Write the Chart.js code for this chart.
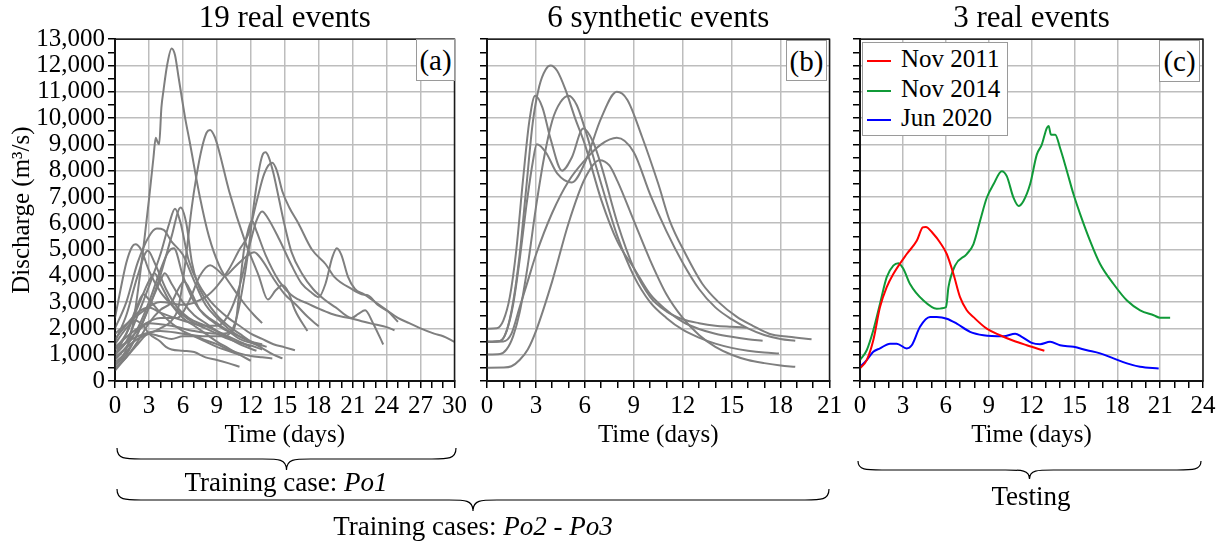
<!DOCTYPE html>
<html lang="en">
<head>
  <meta charset="UTF-8" />
  <title>Discharge events</title>
  <script src="https://cdn.jsdelivr.net/npm/chart.js"></script>
  <style>
    body {
      margin: 0;
      background: #fff;
      font-family: 'Liberation Serif', 'Times New Roman', serif;
    }
    #wrap {
      position: relative;
      width: 1227px;
      height: 546px;
      overflow: hidden;
    }
    canvas { position: absolute; top: 0; }
    .tag {
      position: absolute;
      background: #fff;
      border: 1px solid #9a9a9a;
      font-size: 29px;
      text-align: center;
      line-height: 40px;
      box-sizing: border-box;
    }
    .note {
      position: absolute;
      font-size: 27px;
      line-height: 30px;
      white-space: nowrap;
      transform: translate(-50%, -50%);
    }
    #legend {
      position: absolute;
      left: 862px;
      top: 42px;
      width: 146px;
      background: #fff;
      border: 1px solid #9a9a9a;
      box-sizing: border-box;
      padding: 1px 0 2px 0;
    }
    #legend div {
      height: 29.5px;
      line-height: 29.5px;
      font-size: 25px;
      white-space: nowrap;
    }
    #legend span {
      display: inline-block;
      width: 24px;
      height: 2px;
      margin: 0 10px 0 4px;
      vertical-align: middle;
    }
    svg { position: absolute; left: 0; top: 0; }
  </style>
</head>
<body>
<div id="wrap">
  <canvas id="chartA" width="470" height="450" style="left:0px"></canvas>
  <canvas id="chartB" width="375" height="450" style="left:470px"></canvas>
  <canvas id="chartC" width="382" height="450" style="left:845px"></canvas>

  <div class="tag" style="left:416px;top:39px;width:39px;height:42px">(a)</div>
  <div class="tag" style="left:786px;top:40px;width:41px;height:41px">(b)</div>
  <div class="tag" style="left:1159px;top:40px;width:41px;height:42px">(c)</div>
  <div id="legend"></div>

  <svg id="braces" width="1227" height="546"></svg>
  <div class="note" style="left:286px;top:482px">Training case: <i>Po1</i></div>
  <div class="note" style="left:473px;top:526px">Training cases: <i>Po2</i> - <i>Po3</i></div>
  <div class="note" style="left:1031px;top:496px">Testing</div>
</div>

<script>
  // ---- panel (a): 19 real events (days, m3/s) ----
  const real01Days = [0, 1, 1.6, 2.2, 2.6, 3.0, 3.4, 3.6, 3.75, 3.9, 4.1, 4.3, 4.6, 5.0, 5.3, 5.6, 6.2, 6.6, 7.5, 8.3, 9.2, 10.4, 11.5, 12.3, 13.0];
  const real01Flow = [600, 1200, 2200, 4000, 5400, 6900, 8500, 9250, 9100, 9000, 10400, 11100, 12000, 12650, 12400, 11600, 10000, 9100, 7000, 5500, 4400, 3550, 2900, 2500, 2200];
  const real02Days = [0, 2, 4, 5, 5.6, 6.0, 6.4, 6.75, 7.2, 7.7, 8.1, 8.4, 8.8, 9.1, 10.1, 11.5, 12.7, 13.5, 14.2, 14.8, 15.3, 15.9, 17.0];
  const real02Flow = [900, 1600, 2000, 2300, 2800, 3800, 5200, 6500, 7800, 8900, 9450, 9550, 9300, 8900, 7200, 5300, 4000, 3100, 3450, 3640, 3400, 2700, 1900];
  const real03Days = [0, 2, 4, 6, 8, 9.5, 10.3, 10.8, 11.3, 11.8, 12.3, 12.8, 13.1, 13.3, 13.6, 14.0, 14.5, 15.0, 15.6, 16.5, 17.5, 18.5, 19.5, 20.9, 21.5, 22.1, 22.8, 23.7];
  const real03Flow = [1200, 1700, 1900, 1800, 1700, 1700, 1900, 2500, 3600, 5000, 6800, 8200, 8650, 8700, 8500, 7900, 6900, 5900, 4900, 4100, 3500, 3100, 2800, 2400, 2550, 2690, 2200, 1390];
  const real04Days = [0, 2, 4, 6, 8, 9, 10, 11, 11.8, 12.5, 13.2, 13.9, 14.3, 14.8, 15.4, 16.2, 17.4, 18.6, 19.4, 20.9, 21.8, 22.4, 23.2, 24.1, 25.0];
  const real04Flow = [1800, 2500, 3000, 2900, 3200, 3600, 4200, 5000, 5600, 6800, 7900, 8300, 8000, 7200, 6600, 6000, 5000, 4450, 3950, 3500, 3300, 3250, 2900, 2650, 2250];
  const real05Days = [0, 2, 3, 4, 6, 8, 9, 10, 11, 11.8, 12.5, 13.0, 13.5, 14.5, 15.6, 16.5, 17.4, 18.0, 18.6, 19.2, 19.6, 20.0, 20.6, 21.2, 22, 23, 24, 25, 26, 27, 28.2, 29, 30];
  const real05Flow = [1600, 2600, 2800, 2600, 2300, 2100, 2100, 2500, 3600, 5000, 6100, 6450, 6200, 5400, 4400, 3700, 3350, 3190, 3700, 4700, 5050, 4800, 3950, 3500, 3300, 3000, 2700, 2400, 2200, 2000, 1800, 1700, 1490];
  const real06Days = [0, 2, 3, 5, 7, 9, 10.2, 10.7, 11.0, 11.4, 11.8, 12.1, 12.5, 13.3, 14.5, 15.5, 16.2, 17, 18, 19.1, 20, 20.9, 22, 23, 24, 24.7];
  const real06Flow = [1000, 1900, 2200, 2100, 1900, 1800, 1850, 2300, 3500, 5000, 5800, 6100, 5700, 4800, 3800, 3300, 3100, 2950, 2750, 2560, 2450, 2380, 2250, 2150, 2050, 1930];
  const real07Days = [0, 2, 4, 5.5, 6.5, 7.5, 8.4, 9, 9.7, 10.5, 11.5, 12.3, 13, 14, 15, 16, 17, 18];
  const real07Flow = [1300, 2000, 2400, 2400, 3000, 4000, 4400, 4250, 4000, 4300, 4700, 4900, 4600, 3900, 3300, 2900, 2450, 2080];
  const real08Days = [0, 1, 2, 3, 4, 4.8, 5.3, 5.8, 6.5, 7.5, 8.5, 10, 11, 12, 13, 14, 15, 15.9];
  const real08Flow = [1000, 1500, 2500, 3600, 4800, 6000, 6550, 6000, 4600, 3600, 3000, 2400, 2100, 1800, 1600, 1400, 1280, 1170];
  const real09Days = [0, 1, 2, 3, 4, 5, 5.8, 6.3, 6.8, 7.3, 8, 9, 10, 11, 12, 13, 14, 14.8];
  const real09Flow = [600, 1000, 1800, 2800, 4000, 5500, 6600, 6000, 4500, 3700, 3100, 2500, 2100, 1800, 1500, 1250, 1000, 860];
  const real10Days = [0, 1, 2, 3, 3.7, 4.3, 5, 6, 7, 8, 9, 10, 11, 12, 13];
  const real10Flow = [2000, 3000, 4500, 5500, 5800, 5750, 5300, 4800, 3800, 2900, 2400, 2000, 1700, 1500, 1400];
  const real11Days = [0, 0.5, 1, 1.5, 1.8, 2.3, 3, 4, 5, 6, 7, 8, 9, 10, 11, 12, 13];
  const real11Flow = [2400, 3500, 4500, 5100, 5200, 5000, 4200, 3400, 2900, 2500, 2200, 2000, 1800, 1600, 1450, 1350, 1200];
  const real12Days = [0, 1, 2, 2.9, 3.5, 4.5, 5.5, 6.5, 8, 9.5, 11, 12];
  const real12Flow = [1500, 2500, 4000, 4950, 4500, 3500, 2800, 2400, 2100, 1800, 1500, 1300];
  const real13Days = [0, 1, 2, 3, 4, 4.7, 5.2, 6, 7, 8, 9, 10, 11, 12, 13, 13.4];
  const real13Flow = [800, 1300, 2000, 3000, 4200, 4900, 5050, 4000, 3000, 2500, 2200, 1900, 1600, 1450, 1350, 1300];
  const real14Days = [0, 1, 2, 3, 3.5, 4, 5, 6, 7, 8, 9, 10, 11, 12];
  const real14Flow = [1200, 1800, 2800, 3800, 4100, 3700, 2900, 2400, 2100, 1800, 1500, 1250, 1000, 770];
  const real15Days = [0, 1, 2, 3, 4, 4.4, 5, 6, 7, 8, 9, 10, 11, 12.5];
  const real15Flow = [700, 1100, 1800, 2800, 3800, 4100, 3700, 3000, 2500, 2200, 1900, 1650, 1400, 1150];
  const real16Days = [0, 1, 2, 3, 4, 5, 5.6, 6.1, 6.7, 7.5, 8.5, 9.5, 11, 12, 13];
  const real16Flow = [500, 900, 1500, 2200, 2700, 3000, 3500, 3780, 3400, 2700, 2300, 2000, 1700, 1500, 1350];
  const real17Days = [0, 1, 2, 2.5, 3, 4, 5, 6, 7, 8, 9, 10, 11];
  const real17Flow = [1000, 1800, 2900, 3300, 3100, 2600, 2200, 1900, 1700, 1500, 1300, 1150, 1000];
  const real18Days = [0, 0.8, 1.8, 2.5, 3, 4, 4.5, 5, 6, 7, 8, 9, 10, 11];
  const real18Flow = [1400, 1900, 2300, 2100, 1800, 1500, 1300, 1200, 1150, 1100, 900, 800, 680, 540];
  const real19Days = [0, 1, 2, 3, 4, 5, 6, 7, 8, 9, 10, 11, 12, 13, 13.9];
  const real19Flow = [400, 900, 1400, 1800, 1700, 1600, 1700, 1700, 1550, 1400, 1200, 1050, 950, 900, 860];

  // ---- panel (b): 6 synthetic events ----
  const syn1Days = [0, 0.8, 1.2, 1.6, 2.0, 2.4, 2.8, 3.2, 3.6, 3.9, 4.3, 4.8, 5.4, 6, 7, 8, 9, 10, 11, 12, 13, 14, 15, 16, 16.9];
  const syn1Flow = [1490, 1520, 1900, 3000, 4800, 7300, 9800, 11200, 11850, 12000, 11800, 11100, 10000, 9000, 6900, 5300, 4300, 3300, 2700, 2250, 1980, 1800, 1680, 1590, 1530];
  const syn2Days = [0, 0.6, 1.0, 1.4, 1.8, 2.2, 2.6, 2.95, 3.4, 3.9, 4.6, 5.2, 5.9, 6.5, 7, 8, 9, 10, 11, 12, 13, 14, 15, 15.9];
  const syn2Flow = [1990, 2010, 2300, 3200, 5000, 7600, 9900, 10850, 10400, 9200, 8000, 8500, 9600, 9100, 8200, 6000, 4300, 3200, 2650, 2350, 2200, 2100, 2060, 2030];
  const syn3Days = [0, 0.8, 1.2, 1.6, 2.0, 2.4, 2.8, 3.05, 3.6, 4.3, 5.2, 6.0, 7.0, 7.96, 8.6, 9.5, 10.5, 11.2, 12.2, 13.2, 14.2, 15.3, 16.3, 17.3, 18.5, 19.9];
  const syn3Flow = [1490, 1520, 1900, 2900, 4600, 6600, 8300, 9000, 8700, 7900, 7550, 8300, 10000, 11000, 10700, 9300, 7500, 6100, 4800, 3700, 3000, 2450, 2100, 1800, 1680, 1590];
  const syn4Days = [0, 1, 1.5, 2, 2.5, 3, 4, 5, 6, 7, 7.96, 9, 10, 11, 12, 13, 14, 15, 16, 17, 18, 18.9];
  const syn4Flow = [1490, 1500, 1800, 2800, 3800, 4800, 6400, 7600, 8400, 9000, 9250, 8700, 7100, 5700, 4500, 3500, 2800, 2350, 2000, 1750, 1600, 1530];
  const syn5Days = [0, 0.8, 1.2, 1.6, 2.0, 2.5, 3.0, 3.5, 4.0, 4.5, 5.0, 5.5, 6.0, 7.0, 8.0, 9.0, 10, 11, 12, 13, 14, 15, 16, 17, 17.9];
  const syn5Flow = [1010, 1030, 1200, 1700, 2600, 4400, 6600, 8500, 9900, 10600, 10850, 10500, 9600, 7500, 5500, 4000, 3000, 2400, 1950, 1650, 1420, 1260, 1150, 1080, 1050];
  const syn6Days = [0, 1, 1.5, 2, 2.5, 3, 4, 5, 6, 6.9, 7.5, 8, 9, 10, 11, 12, 13, 14, 15, 16, 17, 18, 18.9];
  const syn6Flow = [505, 510, 560, 800, 1200, 1900, 3800, 6000, 7700, 8400, 8200, 7600, 6100, 4600, 3300, 2400, 1750, 1300, 1000, 800, 680, 590, 540];

  // ---- panel (c): 3 testing events ----
  const testLabels = ['Nov 2011', 'Nov 2014', 'Jun 2020'];
  const testColors = ['#ff0000', '#109a38', '#0000ff'];
  const nov2011Days = [0, 0.47, 0.93, 1.4, 1.87, 2.33, 3.27, 3.97, 4.39, 4.6, 5.14, 5.6, 6.07, 6.54, 7.0, 7.47, 7.94, 8.87, 9.8, 10.74, 11.67, 12.9];
  const nov2011Flow = [480, 795, 1550, 2810, 3570, 4070, 4830, 5330, 5840, 5860, 5590, 5270, 4830, 4070, 3190, 2690, 2430, 1990, 1740, 1530, 1360, 1150];
  const nov2014Days = [0, 0.47, 0.93, 1.4, 1.87, 2.33, 2.69, 3.04, 3.5, 4.44, 5.37, 6.02, 6.19, 6.65, 7.47, 7.94, 8.4, 8.87, 9.34, 9.92, 10.27, 10.74, 11.09, 11.44, 11.9, 12.37, 12.72, 13.07, 13.2, 13.36, 13.66, 14.0, 14.48, 14.94, 15.41, 16.1, 16.8, 17.74, 18.68, 19.6, 20.55, 21.0, 21.7];
  const nov2014Flow = [795, 1170, 1930, 2940, 3950, 4390, 4480, 4260, 3690, 3060, 2750, 2810, 3570, 4390, 4830, 5210, 6090, 6970, 7480, 7980, 7790, 6970, 6660, 6850, 7480, 8610, 8990, 9620, 9700, 9370, 9370, 8860, 7980, 7100, 6340, 5330, 4450, 3690, 3060, 2690, 2500, 2410, 2410];
  const jun2020Days = [0, 0.47, 0.93, 1.4, 2.1, 2.57, 3.27, 3.62, 4.2, 4.9, 5.37, 6.07, 6.77, 7.7, 8.64, 10.04, 10.86, 11.32, 12.02, 12.6, 13.3, 14.0, 14.94, 15.88, 16.8, 17.74, 18.68, 19.6, 20.9];
  const jun2020Flow = [540, 795, 1110, 1240, 1420, 1420, 1240, 1360, 2060, 2430, 2430, 2370, 2180, 1870, 1740, 1700, 1800, 1680, 1450, 1400, 1490, 1360, 1300, 1170, 1050, 860, 670, 540, 480];

  const panelTitles = ['19 real events', '6 synthetic events', '3 real events'];
  const panelXMax = [30, 21, 24];

  const realEvents = [
    [real01Days, real01Flow], [real02Days, real02Flow], [real03Days, real03Flow], [real04Days, real04Flow],
    [real05Days, real05Flow], [real06Days, real06Flow], [real07Days, real07Flow], [real08Days, real08Flow],
    [real09Days, real09Flow], [real10Days, real10Flow], [real11Days, real11Flow], [real12Days, real12Flow],
    [real13Days, real13Flow], [real14Days, real14Flow], [real15Days, real15Flow], [real16Days, real16Flow],
    [real17Days, real17Flow], [real18Days, real18Flow], [real19Days, real19Flow]
  ];
  const synEvents = [
    [syn1Days, syn1Flow], [syn2Days, syn2Flow], [syn3Days, syn3Flow],
    [syn4Days, syn4Flow], [syn5Days, syn5Flow], [syn6Days, syn6Flow]
  ];
  const testEvents = [[nov2011Days, nov2011Flow], [nov2014Days, nov2014Flow], [jun2020Days, jun2020Flow]];

  const serif = "'Liberation Serif', 'Times New Roman', serif";
  const gridColor = '#bdbdbd';
  const none = 'rgba(0,0,0,0)';

  function toPoints(days, flow) {
    return days.map((d, i) => ({ x: d, y: flow[i] }));
  }

  function grayLines(events) {
    return events.map(([d, q]) => ({ data: toPoints(d, q), borderColor: '#7f7f7f' }));
  }

  // black frame round the plot area
  const frame = {
    id: 'frame',
    afterDraw(chart) {
      const a = chart.chartArea, ctx = chart.ctx;
      ctx.save();
      ctx.strokeStyle = '#1a1a1a';
      ctx.lineWidth = 1.5;
      ctx.strokeRect(a.left, a.top, a.right - a.left, a.bottom - a.top);
      ctx.restore();
    }
  };

  function makePanel(id, idx, datasets, yWidth, padRight, yLabels) {
    return new Chart(document.getElementById(id), {
      type: 'line',
      data: { datasets },
      plugins: [frame],
      options: {
        responsive: false,
        animation: false,
        layout: { padding: { left: 0, right: padRight, top: 0, bottom: 0 } },
        elements: {
          point: { radius: 0 },
          line: { borderWidth: 2, cubicInterpolationMode: 'monotone' }
        },
        plugins: {
          legend: { display: false },
          tooltip: { enabled: false },
          title: {
            display: true, text: panelTitles[idx], fullSize: false, color: '#000',
            font: { family: serif, size: 31, weight: 'normal' },
            lineHeight: 1.16,
            padding: { top: 0, bottom: 2 }
          }
        },
        scales: {
          x: {
            type: 'linear', min: 0, max: panelXMax[idx],
            afterFit(s) { s.height = 69; },
            border: { color: '#000', width: 2 },
            grid: {
              color: c => (c.tick && c.tick.value % 3 === 0) ? gridColor : none,
              lineWidth: 1.5, tickColor: '#000', tickLength: 7, tickWidth: 1.5
            },
            ticks: {
              stepSize: 1, autoSkip: false, maxRotation: 0, color: '#000', padding: 3,
              font: { family: serif, size: 25 },
              callback: v => v % 3 === 0 ? String(v) : ''
            },
            title: {
              display: true, text: 'Time (days)', color: '#000',
              font: { family: serif, size: 25 }, padding: { top: 0, bottom: 0 }
            }
          },
          y: {
            min: 0, max: 13000,
            afterFit(s) { s.width = yWidth; },
            border: { color: '#000', width: 2 },
            grid: {
              color: c => (c.tick && c.tick.value % 1000 === 0) ? gridColor : none,
              lineWidth: 1.5, tickColor: '#000', tickLength: 7, tickWidth: 1.5
            },
            ticks: {
              stepSize: 500, autoSkip: false, color: '#000', padding: 3,
              font: { family: serif, size: 25 },
              callback: v => (yLabels && v % 1000 === 0) ? v.toLocaleString('en-US') : ''
            },
            title: {
              display: yLabels, text: 'Discharge (m³/s)', color: '#000',
              font: { family: serif, size: 25 }, padding: { top: 7, bottom: 0 }
            }
          }
        }
      }
    });
  }

  makePanel('chartA', 0, grayLines(realEvents), 115, 13, true);
  makePanel('chartB', 1, grayLines(synEvents), 17, 15, false);
  makePanel('chartC', 2, testEvents.map(([d, q], i) => ({
    label: testLabels[i], data: toPoints(d, q), borderColor: testColors[i]
  })), 15, 24, false);

  // legend of panel (c)
  const legend = document.getElementById('legend');
  testLabels.forEach((name, i) => {
    const row = document.createElement('div');
    row.innerHTML = `<span style="background:${testColors[i]}"></span>${name}`;
    legend.appendChild(row);
  });

  // curly braces under the panels
  function bracePath(x1, x2, y, h) {
    const m = (x1 + x2) / 2, r = y + h / 2, q = 24;
    return `M${x1},${y} C${x1},${r} ${x1 + 8},${r} ${x1 + q},${r} L${m - q},${r} ` +
      `C${m - 8},${r} ${m},${r} ${m},${y + h} C${m},${r} ${m + 8},${r} ${m + q},${r} ` +
      `L${x2 - q},${r} C${x2 - 8},${r} ${x2},${r} ${x2},${y}`;
  }
  const svg = document.getElementById('braces');
  [[117, 456, 448, 22], [117, 829, 489, 22], [858, 1201, 461, 18]].forEach(([x1, x2, y, h]) => {
    const p = document.createElementNS('http://www.w3.org/2000/svg', 'path');
    p.setAttribute('d', bracePath(x1, x2, y, h));
    p.setAttribute('fill', 'none');
    p.setAttribute('stroke', '#000');
    p.setAttribute('stroke-width', '1.2');
    svg.appendChild(p);
  });
</script>
</body>
</html>
